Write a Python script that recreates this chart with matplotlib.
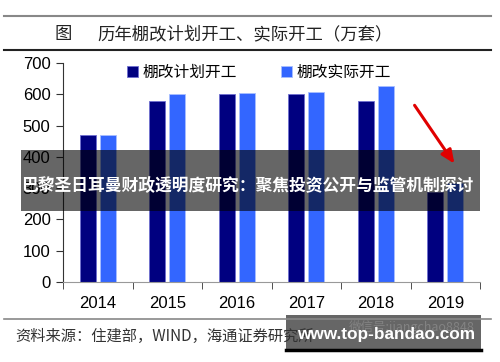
import numpy as np
import matplotlib.pyplot as plt
from matplotlib.patches import Rectangle

years = ["2014", "2015", "2016", "2017", "2018", "2019"]
plan = [470, 580, 600, 600, 580, 289]      # 棚改计划开工
actual = [470, 600, 605, 608, 626, 316]    # 棚改实际开工
yticks = [0, 100, 200, 300, 400, 500, 600, 700]

cjk = ["Noto Sans CJK SC", "DejaVu Sans"]
W, H = 500, 362

fig = plt.figure(figsize=(5, 3.62), dpi=100)

# 主图区域
ax = fig.add_axes([63 / W, (H - 282) / H, (480 - 63) / W, (282 - 63) / H])
x = np.arange(len(years))
bw = 0.235
ax.bar(x - 0.144, plan, bw, color="#000080", edgecolor="#6f6fd0", linewidth=0.6,
       label="棚改计划开工")
ax.bar(x + 0.144, actual, bw, color="#3366ff", edgecolor="#a8bfff", linewidth=0.6,
       label="棚改实际开工")
ax.set_xlim(-0.5, len(years) - 0.5)
ax.set_ylim(0, 700)
ax.set_yticks(yticks)
ax.set_yticklabels([str(v) for v in yticks], family="Liberation Sans", fontsize=12)
ax.set_xticks(x)
ax.set_xticklabels(years, family="Liberation Sans", fontsize=12)
ax.set_xticks(np.arange(len(years) + 1) - 0.5, minor=True)
ax.tick_params(axis="x", which="major", length=0, pad=10)
ax.tick_params(axis="x", which="minor", length=5, direction="out", color="#333333")
ax.tick_params(axis="y", length=5, direction="out", color="#333333", pad=4)
for s in ["top", "right"]:
    ax.spines[s].set_visible(False)
ax.spines["left"].set_color("#333333")
ax.spines["bottom"].set_color("#999999")
ax.legend(loc="upper center", bbox_to_anchor=(0.47, 1.06), ncol=2, frameon=False,
          prop={"family": cjk, "size": 11.3}, handlelength=0.7, handleheight=0.7,
          handletextpad=0.3, columnspacing=2.8)

# 叠加层：标题、来源、箭头、横幅
ov = fig.add_axes([0, 0, 1, 1], zorder=5)
ov.set_xlim(0, W)
ov.set_ylim(H, 0)
ov.axis("off")

ov.plot([4, 491], [16, 16], color="#888888", lw=1.5)
ov.plot([4, 491], [50, 50], color="#222222", lw=1.5)
ov.text(55, 34, "图", family=cjk, fontsize=12.5, va="center", color="#222222",
        fontweight="medium")
ov.text(97, 34, "历年棚改计划开工、实际开工（万套）", family=cjk, fontsize=12.5,
        va="center", color="#222222", fontweight="medium")

ov.plot([4, 491], [319, 319], color="#888888", lw=1.2)
ov.text(15, 336, "资料来源：住建部，WIND，海通证券研究所", family=cjk, fontsize=11,
        va="center", color="#333333")

ov.annotate("", xy=(456, 166), xytext=(413, 103),
            arrowprops=dict(arrowstyle="-|>,head_length=0.8,head_width=0.35",
                            color="#e00000", lw=2.2))

ov.add_patch(Rectangle((21, 150), 459, 61, color="black", alpha=0.6, lw=0))
ov.text(21, 185, "巴黎圣日耳曼财政透明度研究：聚焦投资公开与监管机制探讨",
        family=cjk, fontsize=12.1, fontweight="bold", color="white", va="center")

ov.add_patch(Rectangle((286, 315), 195, 37, color="black", alpha=0.6, lw=0))
ov.plot([286, 481], [350, 350], color="black", lw=2.5)
ov.text(412, 327, "微信号:jiangchao8848", family=cjk, fontsize=9, color="#8a8a8a",
        ha="center", va="center", alpha=0.8)
ov.text(386, 334, "www.top-bandao.com", family="Liberation Sans", fontsize=12.4,
        fontweight="bold", color="white", ha="center", va="center")

fig.savefig("out.png", dpi=100)
